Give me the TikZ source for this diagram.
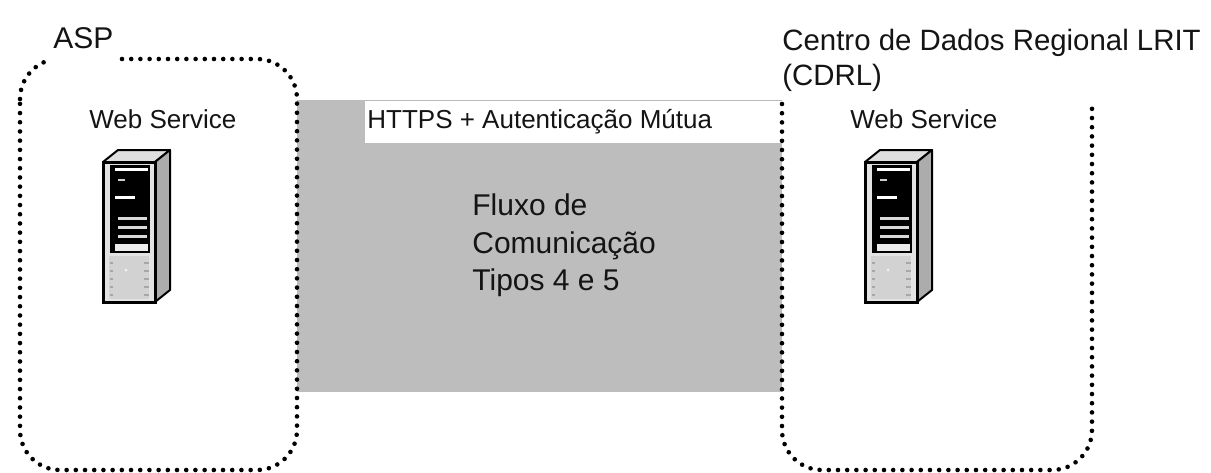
\documentclass[tikz,border=0pt]{standalone}
\usepackage{fontspec}
\setmainfont{Liberation Sans}
\begin{document}
\begin{tikzpicture}[x=0.5pt,y=-0.5pt,
  dotline/.style={line width=2.3pt, line cap=round, dash pattern=on 0pt off 4.6pt, black},
  lbl/.style={inner sep=0pt, anchor=base west, text=black!92},
  fbig/.style={font=\fontsize{15}{18}\selectfont},
  fmid/.style={font=\fontsize{13}{15}\selectfont},
  fctr/.style={font=\fontsize{14.7}{17}\selectfont},
  server/.pic={
    \filldraw[fill=gray!25, draw=black, line width=1pt, line join=round] (0,0)--(15,-12)--(67,-12)--(52,0)--cycle;
    \filldraw[fill=gray!65, draw=black, line width=1pt, line join=round] (52,0)--(67,-12)--(67,128)--(52,140)--cycle;
    \filldraw[fill=gray!22, draw=black, line width=1.5pt] (0,0) rectangle (52,140);
    \fill[black] (7,3) rectangle (47,91);
    \fill[white] (12,6) rectangle (45,9);
    \fill[gray!40] (15,17) rectangle (22,19);
    \fill[white] (12,34) rectangle (32,37);
    \fill[gray!30] (15,55) rectangle (44,58);
    \fill[gray!30] (15,64) rectangle (44,67);
    \fill[gray!30] (15,73) rectangle (44,76);
    \fill[gray!15] (12,82) rectangle (45,89);
    \fill[gray!35] (6,94) rectangle (46,137);
    \foreach \yy in {100,108,116,124,132}{
      \fill[gray!70] (7,\yy) rectangle (10,\yy+2);
      \fill[gray!70] (41,\yy) rectangle (46,\yy+2);
    }
    \fill[white!90!gray] (23,108) circle (1.5);
  }]
\useasboundingbox (0,0) rectangle (1211,472);
\fill[white] (0,0) rectangle (1211,472);
% grey communication band
\fill[gray!52] (297,100) rectangle (782,392);
\fill[white] (365,100) rectangle (782,143);
\draw[gray!55, line width=0.5pt] (365,100) -- (782,100);
% ASP boundary
\draw[dotline, rounded corners=20pt] (122,59) -- (297,59) -- (297,470) -- (20,470) -- (20,99);
\draw[dotline] (20,99) .. controls (20,81) and (32,65) .. (50,60);
% CDRL boundary (open at top)
\draw[dotline, rounded corners=20pt] (782,104) -- (782,470) -- (1092,470) -- (1092,100);
% servers
\pic (srv1) at (103,162) {server};
\pic (srv2) at (865,162) {server};
% labels
\node[lbl, fbig] (asp) at (53,48) {ASP};
\node[lbl, fmid] (ws1) at (89,128) {Web Service};
\node[lbl, fmid] (ws2) at (850,128) {Web Service};
\node[lbl, fmid] (https) at (367,128) {HTTPS + Autenticação Mútua};
\node[lbl, fbig] (fl1) at (472,215) {Fluxo de};
\node[lbl, fbig] (fl2) at (472,253) {Comunicação};
\node[lbl, fbig] (fl3) at (472,290) {Tipos 4 e 5};
\node[lbl, fctr] (cd1) at (782,50) {Centro de Dados Regional LRIT};
\node[lbl, fctr] (cd2) at (782,85) {(CDRL)};
\end{tikzpicture}
\end{document}
